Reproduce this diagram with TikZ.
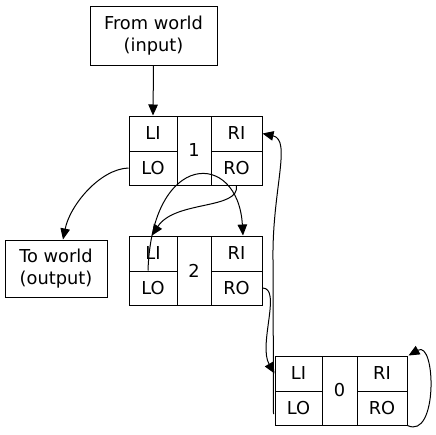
\documentclass[tikz,border=0pt]{standalone}
\usepackage{fontspec}
\setmainfont{DejaVu Sans}
\usetikzlibrary{arrows.meta}
\tikzset{
  cell/.style={draw, line width=1pt, inner sep=0pt, font=\fontsize{17.8}{22}\selectfont},
  box/.style={draw, line width=1pt, inner sep=0pt, align=center, font=\fontsize{17.8}{22.5}\selectfont},
  edge/.style={line width=1pt, -{Triangle[length=11pt,width=9.5pt]}}
}
\begin{document}
\begin{tikzpicture}[x=1pt,y=-1pt]
\useasboundingbox (0,0) rectangle (436,434);
% world boxes
\node[box, minimum width=127pt, minimum height=59pt] (fw) at (153.5,35.5) {From world\\(input)};
\node[box, minimum width=102pt, minimum height=57pt] (tw) at (56,268.5) {To world\\(output)};
% record 1
\node[cell, minimum width=48pt, minimum height=35pt] (n1li) at (153,133.5) {LI};
\node[cell, minimum width=48pt, minimum height=34pt] (n1lo) at (153,168) {LO};
\node[cell, minimum width=34pt, minimum height=69pt] (n1m) at (194,150.5) {1};
\node[cell, minimum width=51pt, minimum height=35pt] (n1ri) at (236.5,133.5) {RI};
\node[cell, minimum width=51pt, minimum height=34pt] (n1ro) at (236.5,168) {RO};
% record 2
\node[cell, minimum width=48pt, minimum height=35pt] (n2li) at (153,253.5) {LI};
\node[cell, minimum width=48pt, minimum height=34pt] (n2lo) at (153,288) {LO};
\node[cell, minimum width=34pt, minimum height=69pt] (n2m) at (194,270.5) {2};
\node[cell, minimum width=51pt, minimum height=35pt] (n2ri) at (236.5,253.5) {RI};
\node[cell, minimum width=51pt, minimum height=34pt] (n2ro) at (236.5,288) {RO};
% record 0
\node[cell, minimum width=47pt, minimum height=35pt] (n0li) at (298.5,373.5) {LI};
\node[cell, minimum width=47pt, minimum height=34pt] (n0lo) at (298.5,408) {LO};
\node[cell, minimum width=35pt, minimum height=69pt] (n0m) at (339.5,390.5) {0};
\node[cell, minimum width=50pt, minimum height=35pt] (n0ri) at (382,373.5) {RI};
\node[cell, minimum width=50pt, minimum height=34pt] (n0ro) at (382,408) {RO};
% edges
\draw[edge] (fw.south) -- (n1li.north);
\draw[edge] (n1lo.west) .. controls (100,169) and (70,205) .. (tw.north -| 63,0);
\draw[edge] (n1ro.south) .. controls (240,210) and (175,200) .. ([xshift=-1pt]n2li.north);
\draw[edge] ([xshift=-5pt]n2lo.north) .. controls (152,150) and (238,150) .. ([xshift=6.5pt]n2ri.north);
\draw[edge] (n2ro.east) .. controls (282,288) and (258,345) .. (n0li.west);
\draw[edge] ([yshift=-6pt,xshift=-1pt]n0lo.west) -- (273,260) .. controls (272,190) and (292,140) .. (n1ri.east);
\draw[edge] (n0ro.south east) .. controls (438,440) and (436,340) .. ([xshift=1pt]n0ri.north east);
\end{tikzpicture}
\end{document}
